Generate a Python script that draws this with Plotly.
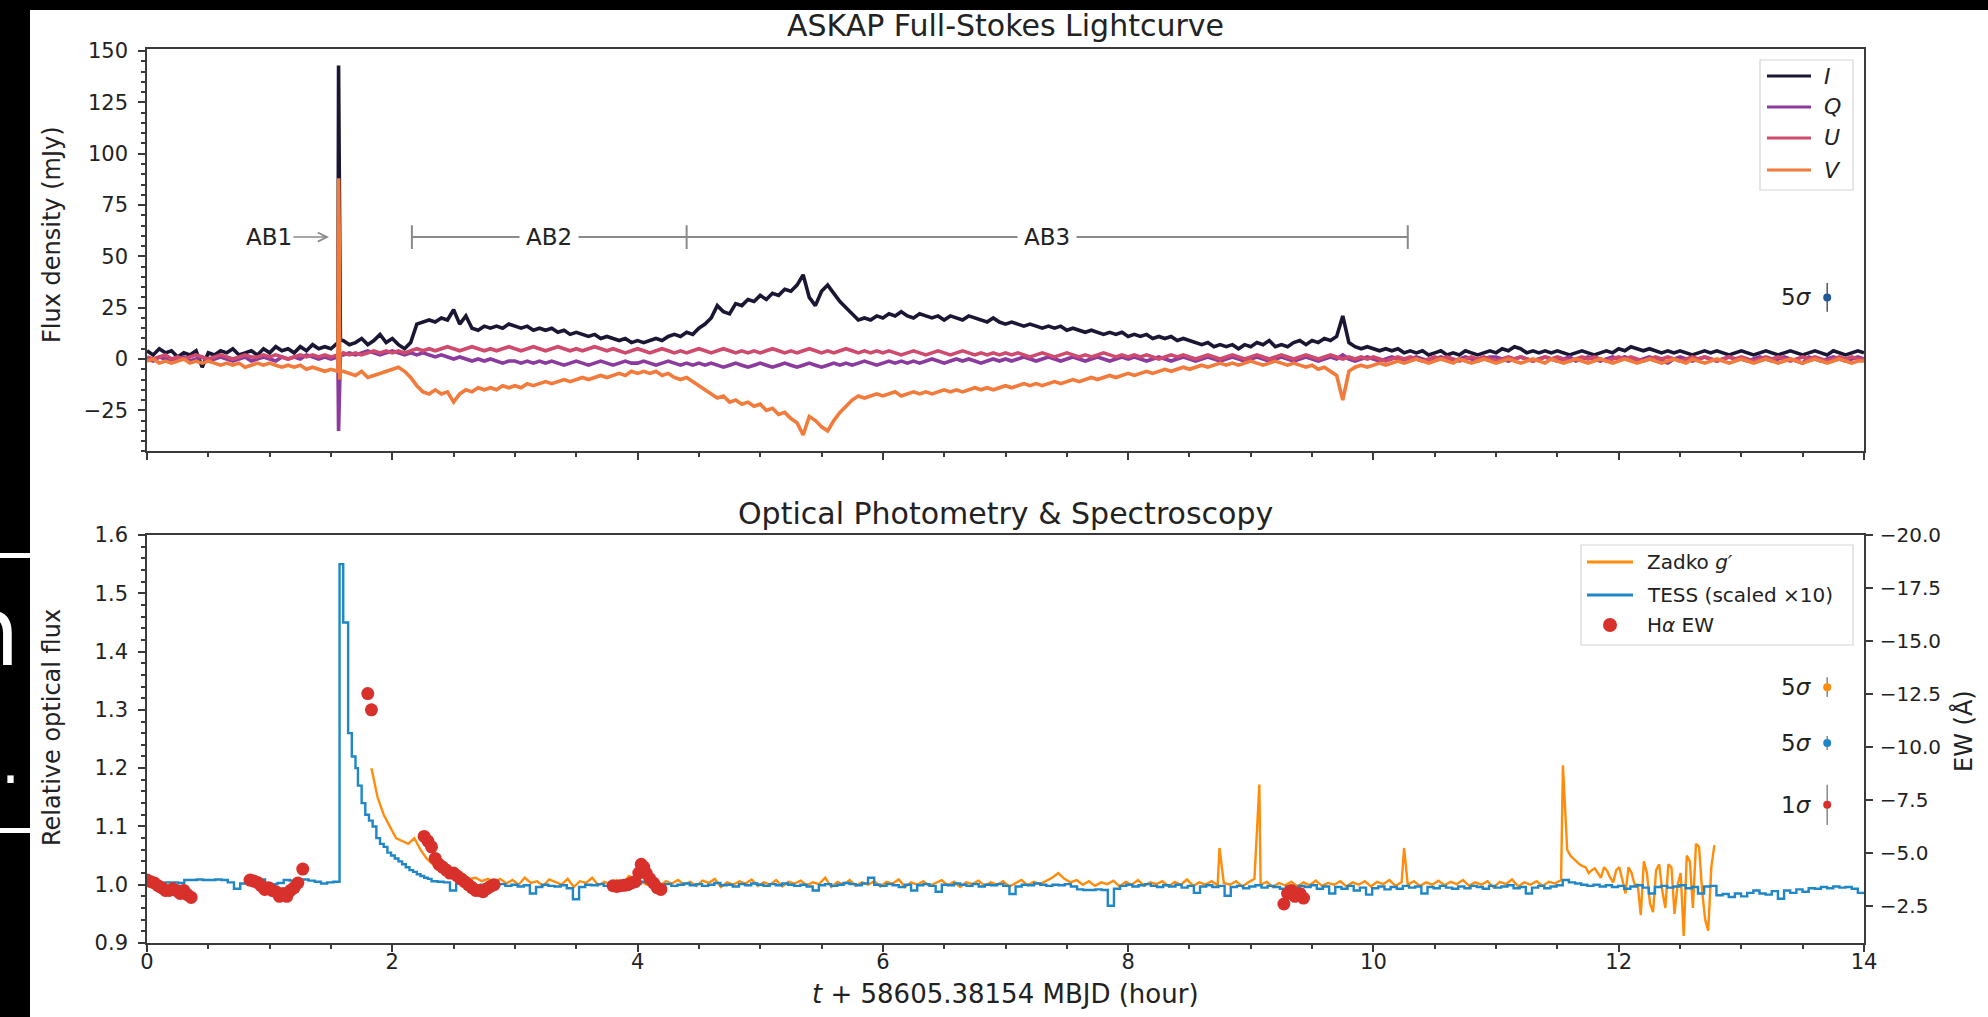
import numpy as np
import plotly.graph_objects as go

# ---------------- ASKAP full-Stokes light curves (mJy), 0.05 h sampling, 0-14 h ----------------
stokes_I = [
    4, 2, 5, 3, 4, 1, 3, 2, 4, -4, 3, 2, 4, 3, 5, 2, 3, 4, 2, 5,
    3, 6, 4, 5, 3, 6, 4, 7, 5, 6, 5, 8, 9, 7, 8, 10, 7, 9, 12, 8,
    10, 7, 5, 8, 17, 18, 19, 18, 20, 19, 24, 17, 21, 15, 14, 16, 15, 16, 15, 17,
    16, 15, 16, 14, 15, 14, 15, 13, 14, 12, 13, 12, 11, 12, 10, 11, 10, 9, 10, 8,
    9, 8, 9, 10, 9, 11, 12, 11, 13, 12, 15, 17, 20, 26, 23, 22, 27, 26, 29, 28,
    31, 29, 32, 31, 34, 33, 36, 41, 30, 26, 33, 36, 32, 28, 25, 22, 19, 20, 19, 21,
    20, 22, 21, 23, 21, 20, 22, 21, 20, 21, 19, 21, 20, 19, 21, 20, 19, 18, 20, 18,
    17, 18, 17, 16, 17, 16, 15, 16, 15, 16, 14, 15, 14, 13, 14, 13, 12, 13, 12, 13,
    11, 12, 11, 12, 10, 11, 10, 11, 9, 10, 9, 8, 7, 8, 6, 7, 6, 7, 5, 7,
    6, 8, 7, 9, 6, 7, 6, 8, 9, 7, 9, 8, 10, 9, 11, 21, 8, 6, 5, 6,
    5, 4, 5, 4, 5, 3, 4, 3, 4, 2, 3, 4, 2, 3, 2, 4, 3, 2, 3, 4,
    3, 5, 4, 6, 5, 3, 4, 3, 4, 3, 4, 3, 2, 3, 4, 3, 2, 3, 4, 3,
    5, 4, 6, 5, 4, 5, 4, 3, 4, 3, 4, 3, 2, 3, 4, 3, 4, 3, 2, 3,
    4, 3, 2, 3, 4, 3, 2, 3, 4, 3, 2, 3, 4, 3, 2, 4, 3, 2, 3, 4,
    3,
]
stokes_Q = [
    0, -1, 1, 0, -1, 0, 1, -1, 0, 1, -1, 0, 1, 0, -1, 0, 1, -1, 0, 1,
    0, -1, 1, 0, 1, 0, 2, 1, 0, 1, 0, 1, 2, 3, 2, 3, 4, 3, 2, 3,
    4, 3, 2, 3, 2, 3, 2, 1, 2, 1, 0, 1, 0, -1, 0, -1, 0, -1, -2, -1,
    -1, -2, -1, -2, -1, -2, -1, -2, -3, -2, -1, -2, -3, -2, -1, -2, -3, -2, -1, -2,
    -2, -1, -2, -3, -2, -1, -2, -3, -2, -3, -2, -3, -2, -3, -4, -3, -2, -3, -4, -3,
    -2, -3, -4, -3, -2, -3, -4, -3, -2, -3, -4, -3, -2, -3, -2, -3, -2, -1, -2, -3,
    -2, -1, -2, -1, -2, -1, -2, -1, 0, -1, -2, -1, 0, -1, 0, -1, -2, -1, 0, -1,
    0, -1, 0, 1, 0, -1, 0, 1, 0, -1, 0, 1, 0, -1, 0, 1, 0, -1, 0, 1,
    0, 1, 0, -1, 0, 1, 0, -1, 0, 1, 0, -1, 0, 1, 0, -1, 0, 1, 0, -1,
    0, 1, 0, -1, 0, 1, 0, -1, 0, 1, 0, -1, 0, 1, 0, 2, 0, -1, 0, 1,
    0, -1, 0, 1, 0, -1, 0, 1, 0, -1, 0, 1, 0, -1, 0, 1, 0, -1, 0, 1,
    1, 0, -1, 0, 1, 0, -1, 0, 1, 0, -1, 0, 1, -1, 0, 1, 0, -1, 0, 1,
    0, 1, 0, -1, 0, 1, 0, -1, -2, 0, 1, 0, -1, 0, 1, 0, -1, 0, 1, 0,
    0, -1, 0, 1, 0, -1, 0, 1, 0, -1, -2, 1, 0, -1, 0, 1, 0, -1, 0, 1,
    0,
]
stokes_U = [
    1, 0, 1, 2, 0, 1, 0, 1, 2, 1, 0, 1, 2, 1, 0, 1, 2, 1, 1, 2,
    1, 2, 1, 0, 1, 2, 1, 2, 1, 2, 1, 2, 3, 2, 3, 2, 3, 4, 3, 4,
    3, 4, 3, 4, 5, 4, 5, 4, 5, 6, 5, 4, 5, 6, 5, 4, 5, 4, 5, 6,
    5, 4, 5, 6, 5, 4, 5, 6, 5, 4, 5, 4, 5, 6, 5, 4, 5, 4, 3, 4,
    5, 4, 3, 4, 5, 4, 3, 4, 3, 4, 5, 4, 3, 4, 5, 4, 3, 4, 3, 4,
    3, 4, 5, 4, 3, 4, 3, 4, 5, 4, 3, 4, 3, 4, 5, 4, 3, 4, 3, 4,
    3, 4, 3, 2, 3, 4, 3, 2, 3, 4, 3, 2, 3, 4, 3, 2, 3, 2, 3, 2,
    3, 2, 3, 2, 1, 2, 3, 2, 1, 2, 3, 2, 1, 2, 1, 2, 3, 2, 1, 2,
    1, 2, 1, 2, 1, 0, 1, 2, 1, 2, 1, 0, 1, 2, 1, 0, 1, 2, 1, 0,
    1, 2, 1, 0, 1, 2, 1, 0, 1, 2, 1, 0, 1, 2, 1, 0, 1, 0, 1, 0,
    1, 0, -1, 0, 1, 0, 1, 0, -1, 0, 1, 0, 1, 0, -1, 0, 1, 0, 1, 0,
    -1, 0, 1, 0, 1, 0, -1, 0, 1, 0, 1, 0, -1, 0, 1, 0, 1, 0, -1, 0,
    1, 0, 1, 0, -1, 0, 1, 0, 1, 0, -1, 0, 1, 0, 1, 0, -1, 0, 1, 0,
    1, 0, -1, 0, 1, 0, 1, 0, -1, 0, 1, 0, 1, 0, -1, 0, 1, 0, 1, 0,
    0,
]
stokes_V = [
    -1, 0, -2, -1, -2, -1, 0, -2, -1, -2, -1, -2, -3, -2, -3, -2, -4, -3, -2, -3,
    -2, -3, -4, -3, -4, -3, -5, -4, -5, -6, -5, -6, -6, -7, -8, -6, -9, -8, -7, -6,
    -5, -4, -6, -9, -13, -16, -17, -15, -17, -16, -21, -17, -15, -16, -14, -15, -14, -15, -13, -14,
    -13, -14, -12, -13, -12, -11, -12, -11, -10, -11, -10, -9, -10, -9, -8, -9, -8, -7, -8, -6,
    -7, -6, -7, -6, -8, -7, -9, -10, -9, -11, -13, -15, -17, -19, -18, -21, -20, -22, -21, -23,
    -22, -25, -24, -27, -26, -29, -31, -37, -28, -30, -33, -35, -30, -26, -23, -20, -18, -19, -18, -17,
    -18, -17, -16, -18, -17, -16, -17, -16, -17, -16, -15, -16, -15, -16, -15, -14, -15, -14, -15, -14,
    -13, -14, -13, -12, -13, -12, -13, -12, -11, -12, -11, -10, -11, -10, -9, -10, -9, -8, -9, -8,
    -7, -8, -7, -6, -7, -6, -5, -6, -5, -4, -5, -4, -3, -4, -3, -2, -3, -2, -3, -2,
    -1, -2, -3, -2, -1, -2, -3, -2, -3, -4, -3, -5, -4, -6, -8, -20, -6, -4, -3, -4,
    -3, -2, -3, -2, -1, -2, -1, 0, -1, -2, -1, 0, -1, -2, 0, -1, -2, -1, 0, -1,
    -2, -1, 0, -1, -2, -1, 0, -1, -2, 0, -1, -2, -1, 0, -1, -2, -1, 0, -1, -2,
    -1, 0, -1, -2, -1, 0, -1, -2, -1, 0, -1, -2, 0, -1, -2, -1, 0, -1, -2, -1,
    0, -1, -2, -1, 0, -1, -2, -1, 0, -1, -2, -1, 0, -1, -2, -1, 0, -1, -2, -1,
    -1,
]

# Burst AB1: finely sampled spike
ab1_t = [1.557, 1.562, 1.567, 1.572, 1.577]
ab1_I = [8, 143, 88, 20, 9]
ab1_Q = [0, -35, -20, -3, 2]
ab1_U = [2, 5, 3, 2, 2]
ab1_V = [-6, 88, 60, -10, -6]

# Burst windows (hours)
ab1_time = 1.50
burst_edges = [2.16, 4.40, 10.28]
burst_label_y = 59.4

# ---------------- Optical photometry ----------------
# TESS (scaled x10): quiescent part before the flare, 0 - 1.52 h
tess_pre = [1.004, 1.004, 1.003, 1.004, 1.004, 1.003, 1.008, 1.008, 1.009, 1.008,
            1.008, 1.009, 1.008, 1.004, 0.993, 1.002, 1.008, 1.008, 1.009, 1.002,
            1.001, 1.003, 1.008, 1.007, 1.008, 1.009, 1.007, 1.005, 1.002, 1.004, 1.005]
tess_flare_t = [1.57, 1.60, 1.64, 1.67, 1.70, 1.72, 1.75, 1.78, 1.81, 1.84, 1.87, 1.90, 1.93,
                1.96, 1.99, 2.02, 2.05, 2.08, 2.11, 2.14, 2.17, 2.20, 2.23, 2.26, 2.29]
tess_flare = [1.55, 1.45, 1.26, 1.22, 1.20, 1.17, 1.14, 1.12, 1.11, 1.10, 1.08, 1.07, 1.065,
              1.055, 1.05, 1.045, 1.04, 1.035, 1.03, 1.025, 1.022, 1.018, 1.015, 1.012, 1.01]
# after the flare, 2.32 - 14 h
tess_post = [
    1.006, 1.005, 1.004, 0.990, 1.002, 1.000, 1.003, 0.998, 1.000, 1.002,
    0.999, 1.001, 0.998, 1.000, 0.997, 0.999, 0.985, 0.996, 1.000, 0.998,
    0.997, 0.999, 0.994, 0.975, 0.996, 1.000, 0.999, 1.001, 0.998, 1.000,
    1.002, 1.000, 1.003, 1.001, 1.005, 1.006, 1.002, 0.999, 1.001, 0.998,
    1.000, 1.002, 0.999, 1.001, 0.998, 1.000, 1.003, 0.999, 1.000, 0.997,
    1.001, 0.999, 1.002, 1.000, 0.998, 1.001, 0.999, 1.002, 1.000, 0.998,
    1.000, 0.997, 0.990, 0.999, 1.001, 0.998, 1.000, 1.003, 1.001, 0.999,
    1.002, 1.012, 1.000, 0.998, 1.001, 0.999, 0.996, 1.000, 0.990, 0.999,
    1.001, 0.998, 0.988, 1.000, 0.999, 1.002, 1.000, 0.998, 1.001, 0.997,
    1.000, 0.999, 1.001, 0.998, 0.984, 0.997, 1.000, 0.999, 1.002, 1.000,
    0.998, 1.000, 0.999, 1.001, 0.997, 0.992, 0.991, 0.991, 0.992, 0.991,
    0.964, 0.993, 0.998, 1.000, 0.997, 0.999, 1.001, 0.998, 0.996, 0.999,
    0.997, 1.000, 0.995, 0.998, 0.986, 0.997, 0.999, 0.996, 0.998, 0.981,
    0.996, 0.998, 0.994, 0.997, 0.999, 0.995, 0.998, 0.996, 0.993, 0.997,
    0.995, 0.998, 0.996, 0.999, 0.993, 0.997, 0.985, 0.996, 0.993, 0.998,
    0.990, 0.995, 0.983, 0.994, 0.997, 0.992, 0.996, 0.993, 0.998, 0.995,
    0.997, 0.985, 0.996, 0.994, 0.998, 0.995, 0.993, 0.997, 0.994, 0.998,
    0.996, 0.993, 0.998, 0.995, 0.997, 0.999, 0.994, 0.996, 0.985, 0.995,
    0.998, 0.994, 0.997, 0.999, 1.008, 1.004, 1.002, 1.000, 0.998, 1.000,
    0.997, 0.999, 0.996, 0.998, 0.993, 0.997, 0.999, 0.995, 0.985, 0.996,
    0.998, 0.995, 0.997, 0.999, 0.994, 0.996, 0.985, 0.997, 0.998, 0.982,
    0.984, 0.979, 0.985, 0.980, 0.986, 0.990, 0.985, 0.983, 0.989, 0.976,
    0.990, 0.986, 0.992, 0.988, 0.994, 0.993, 0.996, 0.994, 0.997, 0.995,
    0.996, 0.993, 0.986, 0.984,
]

# Zadko g' relative flux, 1.83 - 12.78 h
zadko = [
    1.200, 1.150, 1.120, 1.100, 1.080, 1.075, 1.070, 1.080, 1.060, 1.045,
    1.035, 1.030, 1.020, 1.025, 1.015, 1.018, 1.010, 1.012, 1.006, 1.010,
    1.004, 1.010, 1.002, 1.008, 1.000, 1.012, 1.003, 1.006, 0.998, 1.009,
    1.004, 1.000, 1.010, 0.996, 1.006, 1.003, 1.012, 0.999, 1.005, 1.000,
    1.008, 1.003, 1.015, 1.010, 1.005, 1.000, 1.009, 0.997, 1.006, 1.002,
    1.008, 1.000, 1.005, 0.998, 1.007, 1.003, 1.010, 0.996, 1.004, 1.000,
    1.006, 1.002, 1.009, 0.998, 1.004, 1.000, 1.008, 0.997, 1.005, 1.002,
    1.007, 0.999, 1.004, 1.001, 1.012, 0.996, 1.005, 1.000, 1.008, 0.998,
    1.004, 1.000, 1.006, 0.997, 1.005, 1.002, 1.009, 0.996, 1.004, 1.000,
    1.006, 0.998, 1.003, 1.008, 0.999, 1.005, 0.996, 1.004, 1.001, 1.007,
    0.998, 1.004, 1.000, 1.006, 0.997, 1.003, 1.008, 0.999, 1.005, 1.001,
    1.006, 1.012, 1.020, 1.010, 1.004, 1.008, 1.000, 1.006, 0.998, 1.004,
    1.001, 1.007, 0.997, 1.005, 1.000, 1.008, 0.998, 1.004, 1.001, 1.006,
    0.997, 1.005, 1.000, 1.009, 0.998, 1.004, 1.000, 1.006, 0.999, 1.003,
    1.000, 1.006, 0.997, 1.004, 1.010, 1.000, 1.005, 0.996, 1.003, 0.999,
    1.005, 0.997, 1.004, 0.999, 1.007, 0.998, 1.003, 1.000, 1.006, 0.997,
    1.004, 1.000, 1.006, 0.997, 1.005, 1.001, 1.008, 0.998, 1.004, 1.000,
    1.006, 0.998, 1.004, 1.000, 1.007, 0.999, 1.005, 1.001, 1.008, 0.998,
    1.004, 1.000, 1.006, 0.995, 1.005, 1.001, 1.009, 0.997, 1.004, 1.000,
    1.006, 0.998, 1.005, 1.002, 1.008, 1.060, 1.045, 1.035, 1.030, 1.025,
    1.020, 1.030, 1.012, 1.025, 1.008, 1.030, 1.000, 0.948, 1.020, 0.953,
    1.035, 0.960, 1.030, 1.000, 0.912, 1.040, 1.070, 0.990, 0.921, 1.068,
]
# short flares and the dense, noisy late segment
zadko_extra_t = [8.745, 9.07, 10.25, 11.545,
                 11.605, 11.655, 11.705, 11.755, 11.805, 11.855, 11.905, 11.955, 12.005, 12.055,
                 12.105, 12.155, 12.205, 12.255, 12.305, 12.355, 12.405, 12.455, 12.505, 12.555,
                 12.605, 12.655, 12.705, 12.755]
zadko_extra = [1.063, 1.172, 1.063, 1.205,
               1.050, 1.040, 1.032, 1.020, 1.028, 1.012, 1.024, 1.004, 1.030, 0.985,
               1.020, 1.000, 1.040, 0.968, 1.025, 0.990, 1.035, 0.950, 1.020, 1.050,
               0.960, 1.065, 0.940, 1.030]

# H-alpha equivalent width (Angstrom)
halpha_t = [0.00, 0.03, 0.06, 0.09, 0.12, 0.15, 0.18, 0.21, 0.24, 0.27, 0.30, 0.33, 0.36,
            0.84, 0.87, 0.90, 0.93, 0.96, 0.99, 1.02, 1.05, 1.08, 1.11, 1.14, 1.17, 1.20, 1.23, 1.27,
            1.80, 1.83,
            2.26, 2.29, 2.32, 2.35, 2.38, 2.41, 2.44, 2.47, 2.50, 2.53, 2.56, 2.59, 2.62, 2.65,
            2.68, 2.71, 2.74, 2.77, 2.80, 2.83,
            3.80, 3.83, 3.86, 3.89, 3.92, 3.95, 3.98, 4.01, 4.03, 4.05, 4.07, 4.10, 4.13, 4.16, 4.19,
            9.27, 9.30, 9.33, 9.36, 9.40, 9.43]
halpha_ew = [-3.72, -3.64, -3.58, -3.45, -3.36, -3.23, -3.23, -3.31, -3.23, -3.09, -3.23, -3.03, -2.90,
             -3.72, -3.67, -3.61, -3.45, -3.28, -3.36, -3.23, -3.17, -2.95, -3.09, -2.95, -3.23, -3.36,
             -3.58, -4.24,
             -12.52, -11.75,
             -5.78, -5.56, -5.29, -4.74, -4.46, -4.33, -4.19, -4.05, -4.05, -3.91, -3.78, -3.64, -3.50,
             -3.36, -3.23, -3.23, -3.17, -3.31, -3.42, -3.50,
             -3.45, -3.42, -3.45, -3.47, -3.50, -3.58, -3.64, -4.05, -4.46, -4.33, -4.05, -3.78, -3.58,
             -3.36, -3.28,
             -2.59, -3.09, -3.23, -2.95, -3.09, -2.87]

# Reference error bars drawn at the right edge
sigma_t = 13.70
radio_5sig = (30.0, 7.0)
zadko_5sig = (1.339, 0.017)
tess_5sig = (1.243, 0.012)
halpha_1sig = (-7.27, 0.95)


def merged(t_a, v_a, t_b, v_b):
    t = np.concatenate([np.asarray(t_a, float), np.asarray(t_b, float)])
    v = np.concatenate([np.asarray(v_a, float), np.asarray(v_b, float)])
    order = np.argsort(t, kind="stable")
    return t[order], v[order]


# ---------------- figure geometry ----------------
W, H = 1988, 1017
L, R, T, B = 147, 124, 49, 74
PW, PH = W - L - R, H - T - B


def px_x(px):
    return (px - L) / PW


def px_y(py):
    return 1 - (py - T) / PH


top_dom = [px_y(451.4), 1.0]
bot_dom = [0.0, px_y(535)]

FONT = "DejaVu Sans"
INK = "#222222"
AXIS = "#3a3a3a"

C_I, C_Q, C_U, C_V = "#1b1633", "#8b3a9e", "#d04a6e", "#f27b3c"
C_ZADKO, C_TESS, C_HA = "#ff8c0a", "#1f87c7", "#d8302a"

fig = go.Figure()

# ---- radio Stokes traces ----
stokes = [("I", stokes_I, ab1_I, C_I), ("Q", stokes_Q, ab1_Q, C_Q),
          ("U", stokes_U, ab1_U, C_U), ("V", stokes_V, ab1_V, C_V)]
for name, series, spike, col in stokes:
    tg = np.linspace(0, 14, len(series))
    tt, vv = merged(tg, series, ab1_t, spike)
    fig.add_trace(go.Scatter(
        x=tt, y=vv, mode="lines", name=name, showlegend=False,
        line=dict(color=col, width=3.6), xaxis="x", yaxis="y"))

fig.add_trace(go.Scatter(
    x=[sigma_t], y=[radio_5sig[0]], mode="markers", showlegend=False,
    marker=dict(color="#1f5a96", size=8),
    error_y=dict(type="data", array=[radio_5sig[1]], color="#555555", thickness=1.5, width=0),
    xaxis="x", yaxis="y"))

# ---- optical traces ----
zt, zv = merged(np.linspace(1.83, 12.78, len(zadko)), zadko, zadko_extra_t, zadko_extra)
fig.add_trace(go.Scatter(
    x=zt, y=zv, mode="lines", name="Zadko g′", showlegend=False,
    line=dict(color=C_ZADKO, width=2.4), xaxis="x2", yaxis="y2"))

tt_pre = np.linspace(0, 1.52, len(tess_pre))
tt_post = np.linspace(2.32, 14.0, len(tess_post))
tess_t = np.concatenate([tt_pre, tess_flare_t, tt_post])
tess_v = np.concatenate([tess_pre, tess_flare, tess_post])
fig.add_trace(go.Scatter(
    x=tess_t, y=tess_v, mode="lines", name="TESS (scaled ×10)", line_shape="hv",
    showlegend=False, line=dict(color=C_TESS, width=2.4), xaxis="x2", yaxis="y2"))

fig.add_trace(go.Scatter(
    x=[sigma_t], y=[zadko_5sig[0]], mode="markers", showlegend=False,
    marker=dict(color=C_ZADKO, size=8),
    error_y=dict(type="data", array=[zadko_5sig[1]], color="#888888", thickness=1.5, width=0),
    xaxis="x2", yaxis="y2"))
fig.add_trace(go.Scatter(
    x=[sigma_t], y=[tess_5sig[0]], mode="markers", showlegend=False,
    marker=dict(color=C_TESS, size=8),
    error_y=dict(type="data", array=[tess_5sig[1]], color="#888888", thickness=1.5, width=0),
    xaxis="x2", yaxis="y2"))

fig.add_trace(go.Scatter(
    x=halpha_t, y=halpha_ew, mode="markers", name="Hα EW", showlegend=False,
    marker=dict(color=C_HA, size=13), xaxis="x2", yaxis="y3"))
fig.add_trace(go.Scatter(
    x=[sigma_t], y=[halpha_1sig[0]], mode="markers", showlegend=False,
    marker=dict(color=C_HA, size=8),
    error_y=dict(type="data", array=[halpha_1sig[1]], color="#888888", thickness=1.5, width=0),
    xaxis="x2", yaxis="y3"))

# ---- axes ----
tickfont = dict(family=FONT, size=21, color=INK)
common_x = dict(range=[0, 14], dtick=2, tick0=0, ticks="outside", ticklen=7, tickwidth=1.5,
                tickcolor=AXIS, showline=True, linecolor=AXIS, linewidth=1.6, mirror=True,
                showgrid=False, zeroline=False, tickfont=tickfont, ticklabelstandoff=-8,
                minor=dict(dtick=0.5, ticks="outside", ticklen=4, tickcolor=AXIS, showgrid=False))

fig.update_layout(
    xaxis=dict(domain=[0, 1], anchor="y", showticklabels=False, **common_x),
    yaxis=dict(domain=top_dom, anchor="x", range=[-45, 151], dtick=25, tick0=0,
               ticks="outside", ticklen=7, tickwidth=1.5, tickcolor=AXIS,
               showline=True, linecolor=AXIS, linewidth=1.6, mirror=True,
               showgrid=False, zeroline=False, tickfont=tickfont, ticklabelstandoff=6,
               minor=dict(dtick=5, ticks="outside", ticklen=4, tickcolor=AXIS, showgrid=False)),
    xaxis2=dict(domain=[0, 1], anchor="y2", showticklabels=True, **common_x),
    yaxis2=dict(domain=bot_dom, anchor="x2", range=[0.9, 1.6], dtick=0.1, tick0=0,
                tickformat=".1f", ticks="outside", ticklen=7, tickwidth=1.5, tickcolor=AXIS,
                showline=True, linecolor=AXIS, linewidth=1.6, mirror=False,
                showgrid=False, zeroline=False, tickfont=tickfont, ticklabelstandoff=6,
                minor=dict(dtick=0.02, ticks="outside", ticklen=4, tickcolor=AXIS, showgrid=False)),
    yaxis3=dict(overlaying="y2", anchor="x2", side="right", range=[-0.75, -20], dtick=2.5,
                tick0=0, tickformat=".1f", ticks="outside", ticklen=7, tickwidth=1.5,
                tickcolor=AXIS, showline=True, linecolor=AXIS, linewidth=1.6,
                showgrid=False, zeroline=False, tickfont=dict(family=FONT, size=20, color=INK),
                ticklabelstandoff=3),
)

shapes = []
ann = []

# ---- burst markers ----
cap = 5.8
for x0, x1 in zip(burst_edges[:-1], burst_edges[1:]):
    shapes.append(dict(type="line", xref="x", yref="y", x0=x0, x1=x1,
                       y0=burst_label_y, y1=burst_label_y, line=dict(color="#8a8a8a", width=2)))
for xe in burst_edges:
    shapes.append(dict(type="line", xref="x", yref="y", x0=xe, x1=xe,
                       y0=burst_label_y - cap, y1=burst_label_y + cap,
                       line=dict(color="#8a8a8a", width=2)))

lab_font = dict(family=FONT, size=23, color=INK)
ann.append(dict(x=ab1_time, y=burst_label_y, xref="x", yref="y", text="AB1",
                showarrow=True, ax=-62, ay=0, arrowhead=5, arrowsize=1.2, arrowwidth=1.5,
                arrowcolor="#8a8a8a", font=lab_font, standoff=2))
for i, lab in enumerate(["AB2", "AB3"]):
    ann.append(dict(x=(burst_edges[i] + burst_edges[i + 1]) / 2, y=burst_label_y,
                    xref="x", yref="y", text=lab, showarrow=False, bgcolor="white",
                    borderpad=6, font=lab_font))


# ---- legends (drawn in pixel layout) ----
def legend_frame(x0, x1, y0, y1):
    shapes.append(dict(type="rect", xref="paper", yref="paper", layer="above",
                       x0=px_x(x0), x1=px_x(x1), y0=px_y(y1), y1=px_y(y0),
                       fillcolor="white", line=dict(color="#d6d6d6", width=1.2)))


def legend_line(xa, xb, y, color, width):
    shapes.append(dict(type="line", xref="paper", yref="paper", layer="above",
                       x0=px_x(xa), x1=px_x(xb), y0=px_y(y), y1=px_y(y),
                       line=dict(color=color, width=width)))


def legend_text(x, y, text, size):
    ann.append(dict(x=px_x(x), y=px_y(y), xref="paper", yref="paper", text=text,
                    showarrow=False, xanchor="left", yanchor="middle",
                    font=dict(family=FONT, size=size, color=INK)))


legend_frame(1760, 1853, 60, 190)
for (name, _, _, col), yy in zip(stokes, [76, 107, 138, 170]):
    legend_line(1767, 1811, yy, col, 3)
    legend_text(1822, yy, f"<i>{name}</i>", 22)

legend_frame(1581, 1853, 545, 645)
legend_line(1587, 1633, 562, C_ZADKO, 3)
legend_text(1645, 562, "Zadko <i>g′</i>", 20)
legend_line(1587, 1633, 595, C_TESS, 3)
legend_text(1645, 595, "TESS (scaled ×10)", 20)
shapes.append(dict(type="circle", xref="paper", yref="paper", layer="above",
                   xsizemode="pixel", ysizemode="pixel", xanchor=px_x(1610), yanchor=px_y(625),
                   x0=-7, x1=7, y0=-7, y1=7, fillcolor=C_HA, line=dict(width=0)))
legend_text(1645, 625, "H<i>α</i> EW", 20)

# ---- sigma labels ----
sig_font = dict(family=FONT, size=23, color=INK)
ann.append(dict(x=13.59, y=radio_5sig[0], xref="x", yref="y", text="5<i>σ</i>",
                showarrow=False, xanchor="right", font=sig_font))
ann.append(dict(x=13.59, y=zadko_5sig[0], xref="x2", yref="y2", text="5<i>σ</i>",
                showarrow=False, xanchor="right", font=sig_font))
ann.append(dict(x=13.59, y=tess_5sig[0], xref="x2", yref="y2", text="5<i>σ</i>",
                showarrow=False, xanchor="right", font=sig_font))
ann.append(dict(x=13.59, y=halpha_1sig[0], xref="x2", yref="y3", text="1<i>σ</i>",
                showarrow=False, xanchor="right", font=sig_font))

# ---- titles and axis labels ----
title_font = dict(family=FONT, size=30, color=INK)
axis_font = dict(family=FONT, size=24, color=INK)


def label(x, y, text, font, angle=0):
    ann.append(dict(x=px_x(x), y=px_y(y), xref="paper", yref="paper", text=text,
                    textangle=angle, showarrow=False, xanchor="center", yanchor="middle",
                    font=font))


label(1005.5, 25, "ASKAP Full-Stokes Lightcurve", title_font)
label(1005.5, 513, "Optical Photometry &amp; Spectroscopy", title_font)
label(52, 235, "Flux density (mJy)", axis_font, -90)
label(52, 728, "Relative optical flux", axis_font, -90)
label(1963, 731, "EW (Å)", axis_font, -90)
label(1005.5, 994, "<i>t</i> + 58605.38154 MBJD (hour)", dict(family=FONT, size=26, color=INK))

# ---- dark frame around the figure ----
shapes.append(dict(type="rect", xref="paper", yref="paper", layer="above",
                   x0=px_x(-5), x1=px_x(W + 5), y0=px_y(10), y1=px_y(-5),
                   fillcolor="black", line=dict(width=0)))
shapes.append(dict(type="rect", xref="paper", yref="paper", layer="above",
                   x0=px_x(-5), x1=px_x(30), y0=px_y(H + 5), y1=px_y(-5),
                   fillcolor="black", line=dict(width=0)))
for yline in (553, 828):
    shapes.append(dict(type="rect", xref="paper", yref="paper", layer="above",
                       x0=px_x(-5), x1=px_x(30), y0=px_y(yline + 5), y1=px_y(yline),
                       fillcolor="white", line=dict(width=0)))
ann.append(dict(x=px_x(22), y=px_y(632), xref="paper", yref="paper", text="n",
                showarrow=False, xanchor="right", yanchor="middle",
                font=dict(family=FONT, size=96, color="white")))
ann.append(dict(x=px_x(22), y=px_y(762), xref="paper", yref="paper", text=".",
                showarrow=False, xanchor="right", yanchor="middle",
                font=dict(family=FONT, size=60, color="white")))

fig.update_layout(shapes=shapes, annotations=ann)

fig.update_layout(
    width=W, height=H,
    margin=dict(l=L, r=R, t=T, b=B, autoexpand=False),
    paper_bgcolor="white", plot_bgcolor="white",
    font=dict(family=FONT, color=INK), showlegend=False,
)

fig.write_html("out.html")
